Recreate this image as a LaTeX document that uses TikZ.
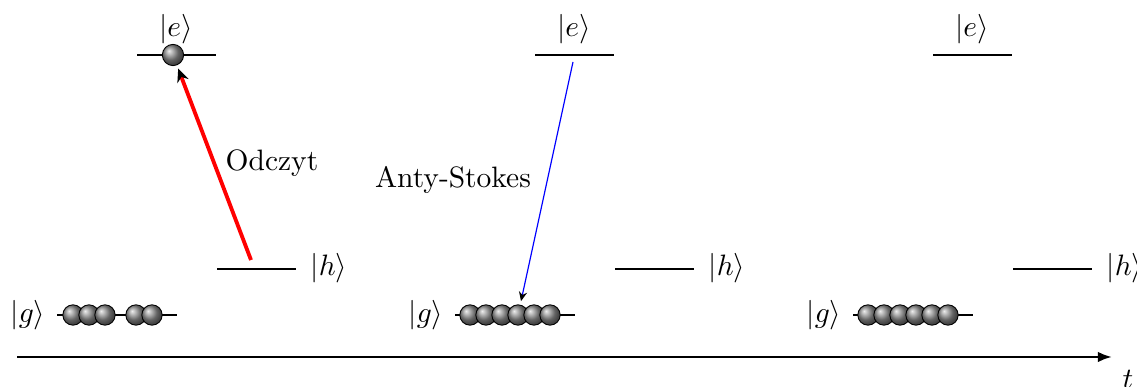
\documentclass[tikz,border=0pt]{standalone}
\usetikzlibrary{arrows.meta}
\begin{document}
\begin{tikzpicture}[x=0.339pt,y=-0.339pt,
  level/.style={line width=0.85pt},
  atom/.style={circle, draw=black, line width=0.3pt, inner sep=0pt, minimum size=6.9pt, shading=ball, ball color=gray!90},
  bigatom/.style={atom, minimum size=7.2pt},
  lbl/.style={inner sep=1pt}]
\useasboundingbox (0,0) rectangle (1137,387);
% panels
\foreach \p/\dx in {1/0,2/398,3/796}{
  \coordinate (el\p) at (137+\dx,55);
  \coordinate (er\p) at (216+\dx,55);
  \coordinate (hl\p) at (217+\dx,269);
  \coordinate (hr\p) at (296+\dx,269);
  \coordinate (gl\p) at (57+\dx,315);
  \coordinate (gr\p) at (177+\dx,315);
  \draw[level] (el\p) -- (er\p);
  \draw[level] (hl\p) -- (hr\p);
  \draw[level] (gl\p) -- (gr\p);
  \node[lbl] (e\p) at (176+\dx,29) {$|e\rangle$};
  \node[lbl] (h\p) at (329+\dx,268) {$|h\rangle$};
  \node[lbl] (g\p) at (28+\dx,315) {$|g\rangle$};
}
% atoms panel 1
\node[bigatom] (be1) at (173,55) {};
\foreach \i/\x in {1/73,2/89,3/105,4/136,5/152}{
  \node[atom] (a1\i) at (\x,315) {};
}
% atoms panel 2
\foreach \i/\x in {1/470,2/486,3/502,4/518,5/534,6/550}{
  \node[atom] (a2\i) at (\x,315) {};
}
% atoms panel 3
\foreach \i/\x in {1/868,2/884,3/900,4/916,5/932,6/948}{
  \node[atom] (a3\i) at (\x,315) {};
}
% read-out arrow
\coordinate (rs) at (251,260);
\draw[red, line width=1.3pt, shorten >=1.2pt, -{Stealth[black,length=4.5pt,width=4pt]}] (rs) -- (be1);
\node (odczyt) at (272,163) {Odczyt};
% anti-Stokes arrow
\coordinate (bs) at (573,62);
\draw[blue, line width=0.4pt, shorten >=1.2pt, -{Stealth[black,length=3.2pt,width=2.8pt]}] (bs) -- (a24);
\node (anty) at (453,180) {Anty-Stokes};
% time axis
\coordinate (t0) at (17,357);
\coordinate (t1) at (1112,357);
\draw[line width=0.85pt, -{Latex[length=4.8pt,width=3.6pt]}] (t0) -- (t1);
\node (t) at (1128,379) {$t$};
\end{tikzpicture}
\end{document}
